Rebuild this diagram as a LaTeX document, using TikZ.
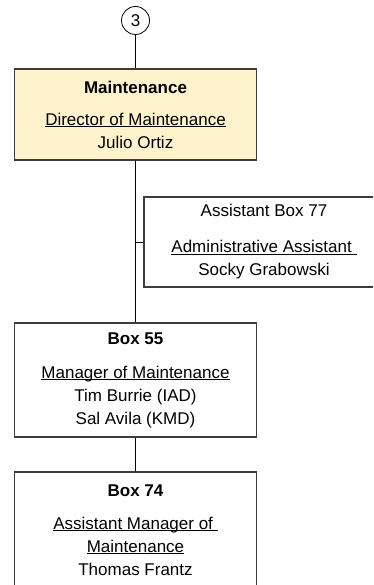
\documentclass[tikz,border=0pt]{standalone}
\usepackage{fontspec}
\setmainfont{Liberation Sans}
\definecolor{boxedge}{RGB}{60,60,60}
\definecolor{deptfill}{RGB}{255,243,206}
\newcommand{\ulrole}[1]{\underline{\smash{#1}}}

\begin{document}
\begin{tikzpicture}[x=1pt,y=-1pt]
                        \tikzstyle{orgbox}=[draw=boxedge, line width=1.2pt, minimum width=242pt, inner sep=0pt, align=center, font=\fontsize{17}{23}\selectfont]
                        \tikzstyle{link}=[draw=black, line width=0.9pt]
                        \useasboundingbox (0,0) rectangle (373,585);
                        \clip (0,0) rectangle (373,585);
                        \node[draw, circle, line width=0.8pt, minimum size=28pt, inner sep=0pt, font=\fontsize{17}{20}\selectfont] (three) at (135.5,20.5) {3};
                        \node[orgbox, fill=deptfill, minimum height=91pt] (dir) at (135.5,114.5)
                            {\textbf{Maintenance}\\[9pt]
                             \ulrole{Director of Maintenance}\\
                             Julio Ortiz};
                        \node[orgbox, minimum width=240pt, minimum height=90pt] (asst) at (264,242)
                            {Assistant Box 77\\[13pt]
                             \ulrole{Administrative Assistant\ }\\
                             Socky Grabowski};
                        \node[orgbox, minimum height=114pt] (mgr) at (135.5,380)
                            {\textbf{Box 55}\\[11pt]
                             \ulrole{Manager of Maintenance}\\
                             Tim Burrie (IAD)\\
                             Sal Avila (KMD)};
                        \node[orgbox, minimum height=116pt] (asstmgr) at (135.5,530)
                            {\textbf{Box 74}\\[10pt]
                             \ulrole{Assistant Manager of\ }\\
                             \ulrole{Maintenance}\\
                             Thomas Frantz};
                        \coordinate (asstjoin) at (dir.south |- asst.west);
                        \draw[link] (three) -- (dir);
                        \draw[link] (dir) -- (mgr);
                        \draw[link] (asstjoin) -- (asst);
                        \draw[link] (mgr) -- (asstmgr);
                    \end{tikzpicture}
\end{document}
